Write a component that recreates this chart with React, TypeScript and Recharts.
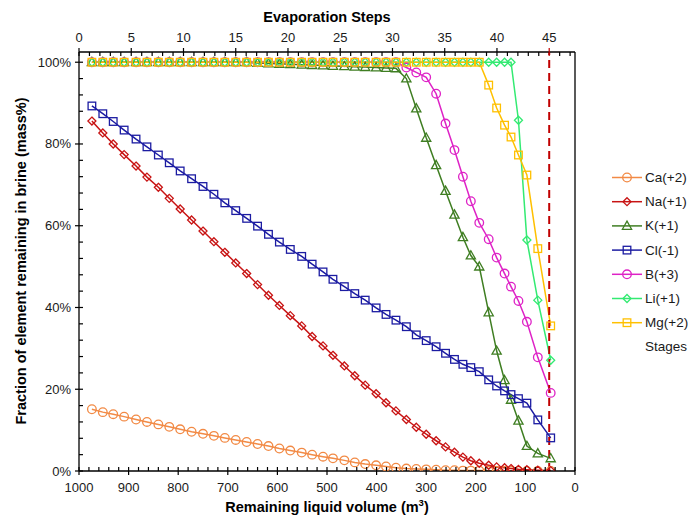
import { LineChart, Line, XAxis, YAxis, ReferenceLine } from 'recharts'

// remaining liquid volume (m3) at each plotted point
const volume = [
  974, 952, 931, 909, 885, 863, 840, 818, 796, 773, 750, 728, 706, 684, 662, 640,
  618, 596, 574, 551, 530, 508, 488, 465, 444, 423, 401, 381, 361, 340, 320, 300,
  280, 261, 243, 226, 210, 193, 174, 158, 142, 129, 114, 97, 75, 49
]

const caValues = [
  0.151, 0.144, 0.139, 0.133, 0.126, 0.12, 0.114, 0.108, 0.102, 0.096, 0.091, 0.086,
  0.081, 0.076, 0.071, 0.066, 0.061, 0.055, 0.05, 0.045, 0.04, 0.035, 0.031, 0.026,
  0.021, 0.017, 0.014, 0.011, 0.008, 0.006, 0.005, 0.004, 0.003, 0.002, 0.002, 0.001,
  0.001, 0.001, 0.0005, 0, 0, 0, 0, 0, 0, 0
]
const naValues = [
  0.856, 0.827, 0.8, 0.774, 0.746, 0.719, 0.694, 0.667, 0.641, 0.614, 0.587, 0.561,
  0.535, 0.509, 0.483, 0.456, 0.43, 0.405, 0.38, 0.355, 0.329, 0.306, 0.283, 0.257,
  0.233, 0.21, 0.189, 0.167, 0.147, 0.126, 0.107, 0.09, 0.074, 0.059, 0.046, 0.034,
  0.025, 0.019, 0.014, 0.01, 0.008, 0.006, 0.004, 0.003, 0.002, 0.001
]
const kValues = [
  1, 1, 1, 1, 1, 1, 1, 1, 1, 1, 1, 1, 1, 1, 1, 0.998,
  0.997, 0.996, 0.995, 0.994, 0.993, 0.992, 0.991, 0.99, 0.989, 0.988, 0.987, 0.986,
  0.985, 0.96, 0.887, 0.815, 0.748, 0.685, 0.627, 0.572, 0.527, 0.5, 0.388, 0.294,
  0.222, 0.174, 0.123, 0.061, 0.043, 0.031
]
const clValues = [
  0.893, 0.874, 0.855, 0.834, 0.812, 0.793, 0.773, 0.754, 0.734, 0.715, 0.696, 0.677,
  0.656, 0.637, 0.618, 0.599, 0.579, 0.56, 0.542, 0.525, 0.506, 0.487, 0.469, 0.451,
  0.434, 0.418, 0.399, 0.383, 0.369, 0.353, 0.333, 0.319, 0.304, 0.288, 0.273, 0.261,
  0.253, 0.243, 0.223, 0.208, 0.196, 0.187, 0.177, 0.166, 0.125, 0.081
]
const bValues = [
  1, 1, 1, 1, 1, 1, 1, 1, 1, 1, 1, 1, 1, 1, 1, 1, 1, 1, 1, 1, 1, 1, 1, 1, 1, 1, 1, 1, 1,
  0.987, 0.975, 0.963, 0.923, 0.85, 0.785, 0.72, 0.66, 0.607, 0.567, 0.522, 0.483,
  0.451, 0.416, 0.365, 0.278, 0.191
]
const liValues = [
  1, 1, 1, 1, 1, 1, 1, 1, 1, 1, 1, 1, 1, 1, 1, 1, 1, 1, 1, 1, 1, 1, 1, 1, 1, 1, 1, 1, 1,
  1, 1, 1, 1, 1, 1, 1, 1, 1, 1, 1, 1, 1, 0.858, 0.565, 0.418, 0.271
]
const mgValues = [
  1, 1, 1, 1, 1, 1, 1, 1, 1, 1, 1, 1, 1, 1, 1, 1, 1, 1, 1, 1, 1, 1, 1, 1, 1, 1, 1, 1, 1,
  1, 1, 1, 1, 1, 1, 1, 1, 1, 0.944, 0.888, 0.846, 0.817, 0.773, 0.724, 0.544, 0.355
]

// top axis: evaporation step 45 sits at 52 m3 on the volume axis
const stageStep = 45
const stageVolume = 52
const volumePerStep = (1000 - stageVolume) / stageStep

// ticks: labelled ones are multiples of the major step, the rest are minor marks
const volumeTicks = Array.from({ length: 51 }, (_, i) => i * 20)
const stepTicks = Array.from({ length: 48 }, (_, i) => i)
const percentTicks = Array.from({ length: 26 }, (_, i) => i * 0.04)

const series = [
  { key: 'ca', name: 'Ca(+2)', values: caValues, color: '#F28A45', shape: 'circle' },
  { key: 'na', name: 'Na(+1)', values: naValues, color: '#C81414', shape: 'diamond' },
  { key: 'k', name: 'K(+1)', values: kValues, color: '#3F7E22', shape: 'triangle' },
  { key: 'cl', name: 'Cl(-1)', values: clValues, color: '#1C1CA2', shape: 'square' },
  { key: 'b', name: 'B(+3)', values: bValues, color: '#DE22C6', shape: 'circle' },
  { key: 'li', name: 'Li(+1)', values: liValues, color: '#33EA72', shape: 'diamond' },
  { key: 'mg', name: 'Mg(+2)', values: mgValues, color: '#FFC000', shape: 'square' }
]

const data = volume.map((v, i) => {
  const row: any = { volume: v }
  series.forEach((s) => { row[s.key] = s.values[i] })
  return row
})

const FONT = '"Liberation Sans", Arial, sans-serif'
const TEXT = '#1a1a1a'

function Marker({ cx, cy, shape, color }: any) {
  if (cx == null || cy == null) return null
  const common = { fill: 'none', stroke: color, strokeWidth: 1.3 }
  if (shape === 'circle') return <circle cx={cx} cy={cy} r={4.3} {...common} />
  if (shape === 'square') return <rect x={cx - 3.8} y={cy - 3.8} width={7.6} height={7.6} {...common} />
  if (shape === 'diamond') {
    return <path d={`M${cx},${cy - 4} L${cx + 4},${cy} L${cx},${cy + 4} L${cx - 4},${cy} Z`} {...common} />
  }
  return <path d={`M${cx},${cy - 4.8} L${cx + 4.6},${cy + 3.4} L${cx - 4.6},${cy + 3.4} Z`} {...common} />
}

function BottomTick({ x, y, payload }: any) {
  const v = payload.value
  const major = v % 100 === 0
  return (
    <g>
      <line x1={x} x2={x} y1={y - 4} y2={major ? y + 4 : y} stroke="#000" strokeWidth={1.2} />
      {major && (
        <text x={x} y={y + 21} textAnchor="middle" fontSize={13} fill={TEXT}>{v}</text>
      )}
    </g>
  )
}

function TopTick({ x, y, payload }: any) {
  const step = Math.round((1000 - payload.value) / volumePerStep)
  const major = step % 5 === 0
  return (
    <g>
      <line x1={x} x2={x} y1={major ? y - 4 : y} y2={y + 4} stroke={step === stageStep ? '#C00000' : '#000'} strokeWidth={1.2} />
      {major && (
        <text x={x} y={y - 10} textAnchor="middle" fontSize={13} fill={TEXT}>{step}</text>
      )}
    </g>
  )
}

function LeftTick({ x, y, payload }: any) {
  const pct = Math.round(payload.value * 100)
  const major = pct % 20 === 0
  return (
    <g>
      <line x1={major ? x - 4 : x} x2={x + 4} y1={y} y2={y} stroke="#000" strokeWidth={1.2} />
      {major && (
        <text x={x - 8} y={y + 4.5} textAnchor="end" fontSize={13} fill={TEXT}>{pct}%</text>
      )}
    </g>
  )
}

const legendTop = 177.5
const legendGap = 24.2

export default function App() {
  return (
    <div style={{ position: 'absolute', left: 0, top: 0, width: 689, height: 517, background: '#fff', fontFamily: FONT }}>
      <LineChart width={689} height={517} data={data} margin={{ top: 0, right: 114, bottom: 0, left: 0 }}>
        <XAxis
          dataKey="volume"
          type="number"
          domain={[0, 1000]}
          reversed
          allowDataOverflow
          ticks={volumeTicks}
          interval={0}
          height={46}
          tickSize={0}
          tickMargin={0}
          tickLine={false}
          tick={<BottomTick />}
          axisLine={{ stroke: '#000', strokeWidth: 1.3 }}
        />
        <XAxis
          xAxisId="top"
          dataKey="volume"
          orientation="top"
          type="number"
          domain={[0, 1000]}
          reversed
          allowDataOverflow
          ticks={stepTicks.map((s) => 1000 - s * volumePerStep)}
          interval={0}
          height={52}
          tickSize={0}
          tickMargin={0}
          tickLine={false}
          tick={<TopTick />}
          axisLine={{ stroke: '#000', strokeWidth: 1.3 }}
        />
        <YAxis
          type="number"
          domain={[0, 1.025]}
          allowDataOverflow
          ticks={percentTicks}
          interval={0}
          width={79}
          tickSize={0}
          tickMargin={0}
          tickLine={false}
          tick={<LeftTick />}
          axisLine={{ stroke: '#000', strokeWidth: 1.3 }}
        />
        <ReferenceLine x={0} stroke="#000" strokeWidth={1.3} />
        {series.map((s) => (
          <Line
            key={s.key}
            dataKey={s.key}
            name={s.name}
            stroke={s.color}
            strokeWidth={1.5}
            isAnimationActive={false}
            dot={(p: any) => <Marker key={`${s.key}-${p.index}`} cx={p.cx} cy={p.cy} shape={s.shape} color={s.color} />}
            activeDot={false}
          />
        ))}
        <ReferenceLine x={stageVolume} stroke="#C00000" strokeWidth={2} strokeDasharray="8 5" />
      </LineChart>

      <svg width={689} height={517} style={{ position: 'absolute', left: 0, top: 0, pointerEvents: 'none' }}>
        <text x={327} y={22} textAnchor="middle" fontSize={14.5} fontWeight="bold" fill="#000">
          Evaporation Steps
        </text>
        <text x={327} y={512} textAnchor="middle" fontSize={14.5} fontWeight="bold" fill="#000">
          Remaining liquid  volume (m<tspan fontSize={9.5} dy={-6}>3</tspan><tspan dy={6}>)</tspan>
        </text>
        <text
          x={0}
          y={0}
          transform="translate(21, 261) rotate(-90)"
          textAnchor="middle"
          dominantBaseline="central"
          fontSize={14.5}
          fontWeight="bold"
          fill="#000"
        >
          Fraction of element remaining in brine (mass%)
        </text>
        {series.map((s, i) => {
          const y = legendTop + i * legendGap
          return (
            <g key={s.key}>
              <line x1={612} x2={642} y1={y} y2={y} stroke={s.color} strokeWidth={1.5} />
              <Marker cx={627} cy={y} shape={s.shape} color={s.color} />
              <text x={645} y={y + 4.5} fontSize={13.5} fill={TEXT}>{s.name}</text>
            </g>
          )
        })}
        <text x={645} y={legendTop + 7 * legendGap + 4.5} fontSize={13.5} fill={TEXT}>Stages</text>
      </svg>
    </div>
  )
}
